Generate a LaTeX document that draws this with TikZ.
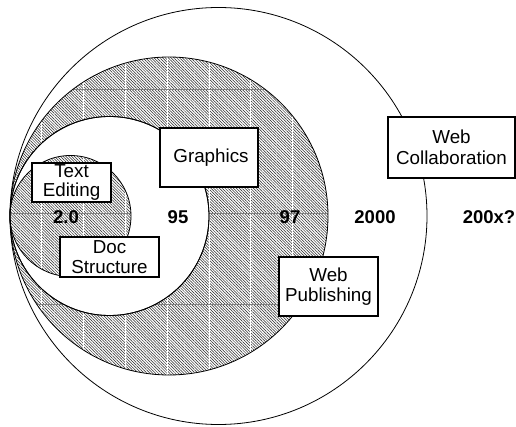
\documentclass[tikz,border=0pt]{standalone}
\usepackage{fontspec}
\setmainfont{Liberation Sans}
\usetikzlibrary{patterns.meta}
\newcommand\mygridlines{%
  \foreach \k in {1,...,7}{\draw[gridv] (41.8*\k,0) -- (41.8*\k,427);}
  \foreach \yy in {89,213,304}{\draw[gridh] (0,\yy) -- (516,\yy);}
}
\begin{document}
\begin{tikzpicture}[x=1pt,y=-1pt,
  hatch/.style={pattern={Lines[angle=-45,distance=2pt,line width=0.5pt]},pattern color=black!85},
  gridv/.style={white,line width=1pt},
  gridh/.style={gray,line width=0.8pt},
  ring/.style={draw=black,line width=0.8pt},
  tag/.style={draw=black,fill=white,line width=1.1pt,inner sep=0pt,align=center,font=\fontsize{18.8}{20.5}\selectfont},
  yr/.style={font=\fontsize{18.5}{20}\selectfont\bfseries,inner sep=0pt}]
\useasboundingbox (0,0) rectangle (516,427);
\draw[ring,fill=white] (218.5,216) circle[radius=208.5pt];
\fill[hatch] (169,216) circle[radius=159pt];
\begin{scope}
  \clip (169,216) circle[radius=159pt];
  \mygridlines
\end{scope}
\draw[ring,fill=white] (109.5,216) circle[radius=99.5pt];
\fill[hatch] (70.5,216) circle[radius=60.5pt];
\begin{scope}
  \clip (70.5,216) circle[radius=60.5pt];
  \mygridlines
\end{scope}
\draw[ring] (70.5,216) circle[radius=60.5pt];
\draw[ring] (169,216) circle[radius=159pt];
\draw[ring] (109.5,216) circle[radius=99.5pt];
\node[yr] (y20) at (66,217) {2.0};
\node[yr] (y95) at (178,217) {95};
\node[yr] (y97) at (290,217) {97};
\node[yr] (y2000) at (375,217) {2000};
\node[yr] (y200x) at (489,217) {200x?};
\node[tag,minimum width=79pt,minimum height=39pt,font=\fontsize{18.8}{18.5}\selectfont] (textedit) at (71.5,182.5) {Text\\Editing};
\node[tag,minimum width=99pt,minimum height=40pt] (docstruct) at (109.5,257) {Doc\\Structure};
\node[tag,minimum width=98pt,minimum height=59pt] (graphics) at (209,157.5) {\hspace*{4pt}Graphics};
\node[tag,minimum width=127pt,minimum height=61pt] (webcollab) at (451.5,147.5) {Web\\Collaboration};
\node[tag,minimum width=99pt,minimum height=59pt] (webpub) at (328.5,286.5) {Web\\Publishing};
\end{tikzpicture}
\end{document}
